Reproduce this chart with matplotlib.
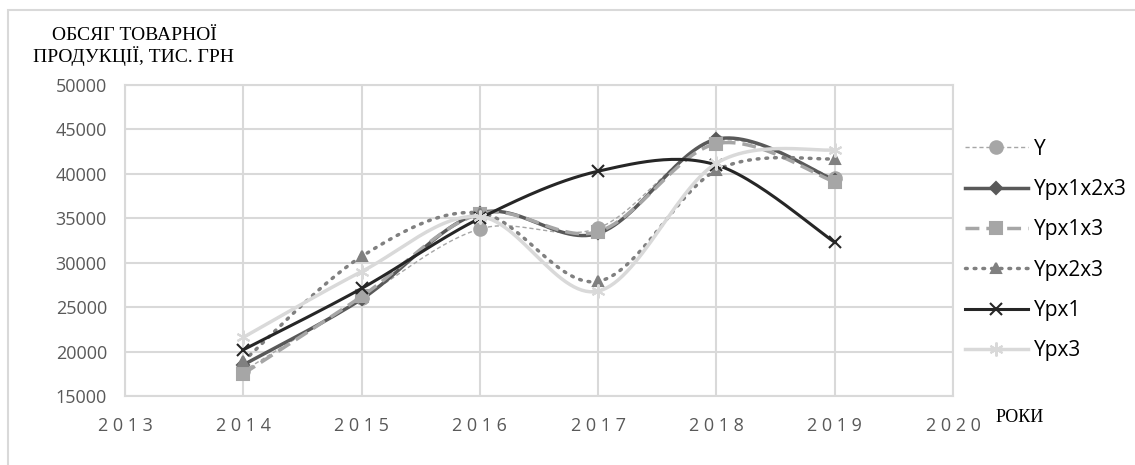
import matplotlib.pyplot as plt
from matplotlib.patches import Rectangle
import numpy as np

years = [2014, 2015, 2016, 2017, 2018, 2019]
y_fact = [17800, 26000, 33800, 33900, 43700, 39500]
y_123 = [18500, 25900, 35600, 33300, 43900, 39300]
y_13 = [17500, 26200, 35500, 33500, 43400, 39100]
y_23 = [18900, 30700, 35600, 27900, 40400, 41700]
y_1 = [20200, 27100, 35000, 40300, 41000, 32300]
y_3 = [21600, 29000, 35200, 26800, 41200, 42700]
labels = ["Y", "Ypx1x2x3", "Ypx1x3", "Ypx2x3", "Ypx1", "Ypx3"]
x_ticks = [2013, 2014, 2015, 2016, 2017, 2018, 2019, 2020]


def smooth(x, y, n=30):
    # Excel-like smoothed line: cubic Bezier through points (Catmull-Rom tangents)
    x = np.asarray(x, float)
    y = np.asarray(y, float)
    px = np.concatenate([[x[0]], x, [x[-1]]])
    py = np.concatenate([[y[0]], y, [y[-1]]])
    xs, ys = [], []
    t = np.linspace(0, 1, n)
    for i in range(len(x) - 1):
        p0 = np.array([px[i + 1], py[i + 1]])
        p3 = np.array([px[i + 2], py[i + 2]])
        p1 = p0 + (np.array([px[i + 2], py[i + 2]]) - np.array([px[i], py[i]])) / 6
        p2 = p3 - (np.array([px[i + 3], py[i + 3]]) - np.array([px[i + 1], py[i + 1]])) / 6
        b = ((1 - t) ** 3)[:, None] * p0 + (3 * (1 - t) ** 2 * t)[:, None] * p1 \
            + (3 * (1 - t) * t ** 2)[:, None] * p2 + (t ** 3)[:, None] * p3
        xs.extend(b[:, 0])
        ys.extend(b[:, 1])
    return xs, ys


fig = plt.figure(figsize=(11.35, 4.65), dpi=100)
ax = fig.add_axes([125 / 1135, 1 - 396 / 465, 828 / 1135, 311 / 465])

styles = [
    dict(color="#a6a6a6", ls=(0, (3, 2)), lw=1.0, marker="o", ms=9),
    dict(color="#595959", ls="-", lw=2.5, marker="D", ms=6),
    dict(color="#a6a6a6", ls=(0, (4, 2)), lw=2.5, marker="s", ms=9),
    dict(color="#808080", ls=(0, (0.5, 2)), lw=2.5, marker="^", ms=7, dash_capstyle="round"),
    dict(color="#262626", ls="-", lw=2.2, marker="x", ms=9),
    dict(color="#d9d9d9", ls="-", lw=2.5, marker=(6, 2, 0), ms=10),
]
series = [y_fact, y_123, y_13, y_23, y_1, y_3]

handles = []
for vals, st, lab in zip(series, styles, labels):
    sx, sy = smooth(years, vals)
    ax.plot(sx, sy, color=st["color"], ls=st["ls"], lw=st["lw"],
            dash_capstyle=st.get("dash_capstyle", "butt"))
    ax.plot(years, vals, ls="none", marker=st["marker"], ms=st["ms"],
            color=st["color"], mec=st["color"], mew=1.5)
    h, = ax.plot([], [], color=st["color"], ls=st["ls"], lw=st["lw"],
                 marker=st["marker"], ms=st["ms"], mec=st["color"], mew=1.5,
                 dash_capstyle=st.get("dash_capstyle", "butt"), label=lab)
    handles.append(h)

ax.set_xlim(2013, 2020)
ax.set_ylim(15000, 50000)
ax.set_xticks(x_ticks)
ax.set_xticklabels([" ".join(str(v)) for v in x_ticks])
ax.set_yticks(range(15000, 50001, 5000))
ax.grid(True, color="#d9d9d9", lw=1.5)
ax.set_axisbelow(True)
for s in ax.spines.values():
    s.set_color("#d9d9d9")
    s.set_linewidth(1.5)
ax.tick_params(axis="y", length=0, colors="#595959", labelsize=13, pad=13)
ax.tick_params(axis="x", length=0, colors="#595959", labelsize=13, pad=15)
for t in ax.get_xticklabels() + ax.get_yticklabels():
    t.set_fontfamily("Open Sans")

fig.legend(handles, labels, loc="upper left", bbox_to_anchor=(0.843, 0.72),
           frameon=False, prop={"family": "Open Sans", "size": 15},
           handlelength=3.0, labelspacing=0.93, handletextpad=0.3,
           borderaxespad=0)

fig.text(0.118, 1 - 36 / 465, "ОБСЯГ ТОВАРНОЇ", family="Liberation Serif",
         fontsize=14, va="center", ha="center")
fig.text(0.118, 1 - 56 / 465, "ПРОДУКЦІЇ, ТИС. ГРН", family="Liberation Serif",
         fontsize=14, va="center", ha="center")
fig.text(996 / 1135, 1 - 417 / 465, "РОКИ", family="Liberation Serif",
         fontsize=13, va="center", ha="left")

fig.patches.append(Rectangle((8 / 1135, -0.1), 1.2, 1 - 10 / 465 + 0.1,
                             transform=fig.transFigure, fill=False,
                             ec="#d9d9d9", lw=1.5))

fig.savefig("out.png", dpi=100)
